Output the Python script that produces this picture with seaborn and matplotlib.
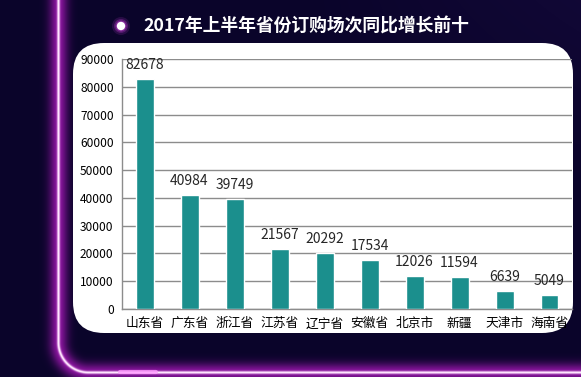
import numpy as np
import pandas as pd
import matplotlib
matplotlib.use("Agg")
import matplotlib.pyplot as plt
import seaborn as sns
from matplotlib.patches import FancyBboxPatch, Circle

sns.set_style("white")
plt.rcParams["font.family"] = ["Noto Sans CJK SC", "DejaVu Sans"]

# data
provinces = ["山东省", "广东省", "浙江省", "江苏省", "辽宁省",
             "安徽省", "北京市", "新疆", "天津市", "海南省"]
counts = [82678, 40984, 39749, 21567, 20292, 17534, 12026, 11594, 6639, 5049]
title = "2017年上半年省份订购场次同比增长前十"

df = pd.DataFrame({"province": provinces, "count": counts})

W, H = 581, 377
fig = plt.figure(figsize=(W / 100, H / 100), dpi=100)

# background: navy with a glowing purple frame line on the left/bottom
bg = fig.add_axes([0, 0, 1, 1])
bg.set_xlim(0, W)
bg.set_ylim(H, 0)
bg.axis("off")

yy, xx = np.mgrid[0:H, 0:W].astype(float)
cx, cy, r = 88.0, 342.0, 30.0
d = np.abs(xx - 58)
corner = (xx < cx) & (yy > cy)
d[corner] = np.abs(np.hypot(xx[corner] - cx, yy[corner] - cy) - r)
below = (xx >= cx) & (yy > cy)
d[below] = np.abs(yy[below] - 372)
glow = np.exp(-(d / 9.0) ** 2)
core = np.exp(-(d / 1.5) ** 2)
base = np.array([10, 4, 42]) / 255
purple = np.array([140, 20, 160]) / 255
img = base[None, None, :] * (1 - glow[..., None]) + purple[None, None, :] * glow[..., None]
img = img * (1 - core[..., None]) + np.array([1.0, 0.9, 1.0])[None, None, :] * core[..., None]
# a slightly lighter tint toward the upper right
tint = np.clip((xx - 300) / 300, 0, 1) * np.clip(1 - yy / 200, 0, 1) * 0.05
img = np.clip(img + tint[..., None] * np.array([0.6, 0.3, 1.0]), 0, 1)
bg.imshow(img, extent=(0, W, H, 0), aspect="auto", zorder=0)

# bright spot on the bottom line
bg.plot([120, 156], [372, 372], color="#ff9cff", lw=3, alpha=0.8, solid_capstyle="round", zorder=1)

# white rounded panel
panel = FancyBboxPatch((73, 43), 500, 290, boxstyle="round,pad=0,rounding_size=31",
                       facecolor="white", edgecolor="none", zorder=2)
bg.add_patch(panel)

# title bullet with glow
for rad, a in [(9, 0.15), (7, 0.25), (5.5, 0.4)]:
    bg.add_patch(Circle((121, 26), rad, color="#d040e0", alpha=a, zorder=3, lw=0))
bg.add_patch(Circle((121, 26), 4.2, color="white", zorder=4, lw=0))
bg.text(306, 27, title, color="white", fontsize=12.8, fontweight="bold",
        ha="center", va="center", zorder=4)

# bar chart
ax = fig.add_axes([122 / W, 1 - 309 / H, 450 / W, 250 / H])
ax.patch.set_alpha(0)
sns.barplot(data=df, x="province", y="count", color="#1b8f8d", width=0.4,
            saturation=1, ax=ax, zorder=3)
ax.set_xlim(-0.5, len(provinces) - 0.5)
ax.set_ylim(0, 90000)
ax.set_yticks(range(0, 90001, 10000))
ax.set_xlabel("")
ax.set_ylabel("")
ax.yaxis.grid(True, color="#8c8c8c", lw=1)
ax.set_axisbelow(True)
for s in ["top", "right"]:
    ax.spines[s].set_visible(False)
for s in ["left", "bottom"]:
    ax.spines[s].set_color("#8c8c8c")
    ax.spines[s].set_linewidth(1)
ax.tick_params(axis="y", length=4, color="#8c8c8c", labelsize=8.6, pad=2, labelcolor="black")
ax.tick_params(axis="x", which="major", length=0, labelsize=9.2, pad=6, labelcolor="black")
ax.set_xticks(np.arange(len(provinces) + 1) - 0.5, minor=True)
ax.tick_params(axis="x", which="minor", length=4, color="#8c8c8c")
ax.bar_label(ax.containers[0], labels=[str(v) for v in counts], padding=5, fontsize=10)

for t in ax.get_xticklabels() + ax.get_yticklabels() + ax.texts:
    t.set_clip_path(panel)

fig.savefig("out.png", dpi=100)
